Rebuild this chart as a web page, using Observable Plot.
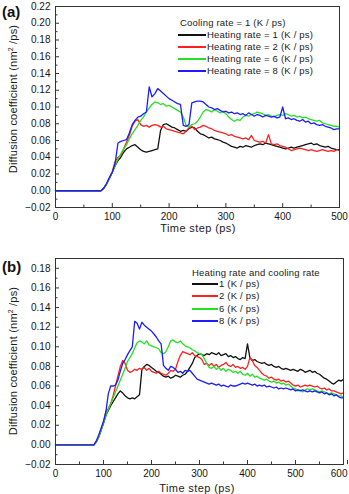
<!DOCTYPE html>
<html>
<head>
<meta charset="utf-8">
<script src="https://cdn.jsdelivr.net/npm/d3@7"></script>
<script src="https://cdn.jsdelivr.net/npm/@observablehq/plot@0.6"></script>
<style>
  html, body { margin: 0; padding: 0; background: #fff; }
  #page { position: relative; width: 349px; height: 494px; overflow: hidden; font-family: "Liberation Sans", Arial, sans-serif; color: #1a1a1a; }
  .panel { position: absolute; left: 0; }
  .tag { position: absolute; font-weight: bold; font-size: 15px; line-height: 1; color: #111; }
  .ylab { position: absolute; font-size: 11px; white-space: nowrap; transform: translate(-50%, -50%) rotate(-90deg); line-height: 1; letter-spacing: 0.2px; }
  .ylab sup { font-size: 7px; vertical-align: 4px; line-height: 0; }
  .xlab { position: absolute; font-size: 11px; white-space: nowrap; transform: translate(-50%, -50%); line-height: 1; letter-spacing: 0.4px; }
  .lg { position: absolute; font-size: 9.5px; white-space: nowrap; line-height: 1; letter-spacing: 0.2px; }
  .lg .row { position: absolute; left: 0; height: 12px; display: flex; align-items: center; }
  .lg .sw { display: inline-block; height: 2px; margin-right: 1px; }
  .lg .head { position: absolute; left: 0; height: 12px; display: flex; align-items: center; }
</style>
</head>
<body>
<div id="page"></div>
<script>
// Time axes (ps)
const timeA = [0, ...d3.range(80, 501, 5)];
const timeB = [0, ...d3.range(80, 601, 5)];

// (a) cooling rate fixed at 1 K/ps, heating rate varied
const a_heat1 = [0,
  0, 0.003, 0.008, 0.015, 0.022, 0.030, 0.036, 0.040, 0.046, 0.050,
  0.052, 0.054, 0.055, 0.052, 0.049, 0.047, 0.046, 0.047, 0.048, 0.049,
  0.050, 0.072, 0.079, 0.080, 0.078, 0.076, 0.075, 0.073, 0.071, 0.072,
  0.071, 0.074, 0.076, 0.075, 0.071, 0.068, 0.067, 0.065, 0.063, 0.064,
  0.062, 0.061, 0.060, 0.058, 0.057, 0.055, 0.053, 0.052, 0.051, 0.053,
  0.052, 0.054, 0.053, 0.052, 0.054, 0.055, 0.056, 0.055, 0.057, 0.056,
  0.055, 0.054, 0.053, 0.052, 0.051, 0.050, 0.051, 0.052, 0.051, 0.052,
  0.053, 0.054, 0.055, 0.056, 0.057, 0.055, 0.056, 0.054, 0.053, 0.052,
  0.053, 0.051, 0.050, 0.049, 0.049];
const a_heat2 = [0,
  0, 0.003, 0.008, 0.015, 0.023, 0.035, 0.040, 0.042, 0.050, 0.058,
  0.066, 0.077, 0.083, 0.085, 0.079, 0.077, 0.078, 0.076, 0.078, 0.079,
  0.078, 0.076, 0.077, 0.074, 0.073, 0.072, 0.071, 0.070, 0.069, 0.068,
  0.071, 0.075, 0.077, 0.073, 0.075, 0.076, 0.078, 0.077, 0.075, 0.074,
  0.072, 0.071, 0.070, 0.069, 0.068, 0.066, 0.067, 0.065, 0.064, 0.063,
  0.062, 0.063, 0.061, 0.066, 0.060, 0.059, 0.058, 0.059, 0.057, 0.067,
  0.056, 0.055, 0.056, 0.054, 0.053, 0.052, 0.050, 0.048, 0.049, 0.050,
  0.051, 0.050, 0.049, 0.048, 0.049, 0.048, 0.047, 0.048, 0.049, 0.048,
  0.047, 0.048, 0.047, 0.049, 0.048];
const a_heat6 = [0,
  0, 0.003, 0.008, 0.015, 0.022, 0.030, 0.038, 0.044, 0.050, 0.055,
  0.062, 0.068, 0.073, 0.078, 0.084, 0.088, 0.094, 0.099, 0.103, 0.106,
  0.105, 0.103, 0.104, 0.101, 0.102, 0.100, 0.098, 0.096, 0.094, 0.088,
  0.078, 0.076, 0.079, 0.080, 0.083, 0.088, 0.094, 0.097, 0.096, 0.094,
  0.097, 0.095, 0.093, 0.095, 0.092, 0.088, 0.085, 0.083, 0.085, 0.084,
  0.088, 0.090, 0.089, 0.091, 0.092, 0.094, 0.093, 0.092, 0.090, 0.091,
  0.089, 0.088, 0.090, 0.091, 0.090, 0.092, 0.091, 0.089, 0.090, 0.088,
  0.089, 0.087, 0.088, 0.086, 0.085, 0.084, 0.083, 0.084, 0.081, 0.080,
  0.079, 0.078, 0.077, 0.077, 0.076];
const a_heat8 = [0,
  0, 0.003, 0.009, 0.016, 0.022, 0.033, 0.057, 0.059, 0.060, 0.061,
  0.069, 0.079, 0.084, 0.088, 0.089, 0.092, 0.094, 0.124, 0.112, 0.116,
  0.122, 0.119, 0.116, 0.113, 0.110, 0.108, 0.106, 0.104, 0.103, 0.078,
  0.077, 0.079, 0.105, 0.106, 0.107, 0.107, 0.106, 0.103, 0.100, 0.099,
  0.097, 0.098, 0.096, 0.094, 0.095, 0.093, 0.094, 0.092, 0.093, 0.091,
  0.092, 0.090, 0.093, 0.091, 0.089, 0.091, 0.090, 0.088, 0.090, 0.089,
  0.088, 0.089, 0.087, 0.088, 0.100, 0.086, 0.087, 0.085, 0.086, 0.084,
  0.083, 0.085, 0.082, 0.083, 0.080, 0.081, 0.079, 0.078, 0.079, 0.077,
  0.076, 0.075, 0.073, 0.074, 0.074];

// (b) equal heating and cooling rates
const b_rate1 = [0,
  0, 0.003, 0.008, 0.015, 0.022, 0.030, 0.035, 0.040, 0.044, 0.048,
  0.052, 0.055, 0.053, 0.050, 0.048, 0.047, 0.048, 0.047, 0.049, 0.051,
  0.077, 0.080, 0.082, 0.081, 0.079, 0.077, 0.075, 0.074, 0.072, 0.070,
  0.069, 0.070, 0.068, 0.069, 0.071, 0.070, 0.069, 0.071, 0.072, 0.075,
  0.079, 0.083, 0.089, 0.091, 0.093, 0.092, 0.091, 0.093, 0.092, 0.094,
  0.093, 0.092, 0.094, 0.091, 0.092, 0.093, 0.090, 0.091, 0.089, 0.090,
  0.088, 0.087, 0.089, 0.088, 0.103, 0.089, 0.086, 0.087, 0.085, 0.084,
  0.083, 0.084, 0.082, 0.081, 0.082, 0.080, 0.079, 0.080, 0.078, 0.077,
  0.078, 0.077, 0.076, 0.077, 0.076, 0.075, 0.077, 0.076, 0.074, 0.075,
  0.076, 0.074, 0.075, 0.073, 0.072, 0.070, 0.068, 0.067, 0.065, 0.063,
  0.062, 0.064, 0.066, 0.065, 0.067];
const b_rate2 = [0,
  0, 0.003, 0.008, 0.015, 0.023, 0.034, 0.037, 0.042, 0.050, 0.060,
  0.070, 0.080, 0.086, 0.083, 0.076, 0.074, 0.075, 0.077, 0.076, 0.078,
  0.077, 0.079, 0.076, 0.078, 0.075, 0.074, 0.073, 0.075, 0.073, 0.072,
  0.071, 0.073, 0.076, 0.075, 0.077, 0.085, 0.091, 0.095, 0.094, 0.093,
  0.092, 0.094, 0.091, 0.090, 0.089, 0.087, 0.082, 0.083, 0.081, 0.083,
  0.080, 0.082, 0.079, 0.081, 0.082, 0.084, 0.081, 0.080, 0.082, 0.079,
  0.080, 0.078, 0.079, 0.077, 0.080, 0.089, 0.086, 0.081, 0.079, 0.076,
  0.073, 0.071, 0.070, 0.068, 0.069, 0.067, 0.066, 0.067, 0.065, 0.066,
  0.064, 0.065, 0.063, 0.061, 0.060, 0.061, 0.059, 0.060, 0.061, 0.060,
  0.061, 0.060, 0.059, 0.060, 0.058, 0.057, 0.058, 0.056, 0.057, 0.055,
  0.055, 0.054, 0.053, 0.052, 0.053];
const b_rate6 = [0,
  0, 0.003, 0.008, 0.015, 0.022, 0.030, 0.036, 0.042, 0.048, 0.054,
  0.060, 0.066, 0.072, 0.078, 0.085, 0.089, 0.093, 0.099, 0.104, 0.106,
  0.105, 0.103, 0.106, 0.102, 0.101, 0.100, 0.099, 0.098, 0.094, 0.093,
  0.095, 0.100, 0.106, 0.107, 0.105, 0.104, 0.106, 0.103, 0.101, 0.100,
  0.099, 0.097, 0.096, 0.094, 0.093, 0.092, 0.088, 0.083, 0.079, 0.078,
  0.080, 0.077, 0.079, 0.076, 0.078, 0.075, 0.077, 0.076, 0.074, 0.075,
  0.073, 0.075, 0.072, 0.071, 0.073, 0.070, 0.072, 0.069, 0.070, 0.068,
  0.067, 0.066, 0.067, 0.065, 0.064, 0.065, 0.063, 0.064, 0.062, 0.063,
  0.061, 0.062, 0.060, 0.058, 0.057, 0.055, 0.056, 0.054, 0.056, 0.057,
  0.056, 0.057, 0.056, 0.055, 0.054, 0.055, 0.054, 0.053, 0.052, 0.053,
  0.052, 0.051, 0.050, 0.050, 0.049];
const b_rate8 = [0,
  0, 0.004, 0.010, 0.017, 0.024, 0.034, 0.052, 0.060, 0.060, 0.061,
  0.066, 0.075, 0.083, 0.087, 0.092, 0.096, 0.100, 0.126, 0.124, 0.118,
  0.125, 0.122, 0.120, 0.118, 0.116, 0.113, 0.110, 0.106, 0.103, 0.081,
  0.078, 0.076, 0.080, 0.079, 0.077, 0.074, 0.075, 0.073, 0.076, 0.075,
  0.076, 0.073, 0.070, 0.067, 0.066, 0.065, 0.064, 0.063, 0.062, 0.063,
  0.062, 0.061, 0.062, 0.060, 0.061, 0.060, 0.059, 0.061, 0.060, 0.060,
  0.061, 0.062, 0.063, 0.062, 0.063, 0.062, 0.061, 0.062, 0.060, 0.061,
  0.060, 0.061, 0.059, 0.060, 0.059, 0.058, 0.059, 0.057, 0.058, 0.057,
  0.058, 0.057, 0.056, 0.057, 0.055, 0.056, 0.055, 0.056, 0.055, 0.054,
  0.055, 0.054, 0.055, 0.054, 0.053, 0.054, 0.052, 0.053, 0.051, 0.052,
  0.050, 0.051, 0.049, 0.048, 0.048];

// Tick labels
const xTicksA = [0, 100, 200, 300, 400, 500];
const xTicksB = [0, 100, 200, 300, 400, 500, 600];
const yTicksA = [-0.02, 0.00, 0.02, 0.04, 0.06, 0.08, 0.10, 0.12, 0.14, 0.16, 0.18, 0.20, 0.22];
const yTicksB = [-0.02, 0.00, 0.02, 0.04, 0.06, 0.08, 0.10, 0.12, 0.14, 0.16, 0.18];

const colors = ["#111111", "#ff1f1f", "#22e022", "#1c1cff"];
const legendA = ["Heating rate = 1 (K / ps)", "Heating rate = 2 (K / ps)", "Heating rate = 6 (K / ps)", "Heating rate = 8 (K / ps)"];
const legendB = ["1 (K / ps)", "2 (K / ps)", "6 (K / ps)", "8 (K / ps)"];

const page = document.getElementById("page");

function midpoints(arr) {
  const out = [];
  for (let i = 0; i < arr.length - 1; i++) out.push((arr[i] + arr[i + 1]) / 2);
  return out;
}

function panel({time, series, xTicks, yTicks, xMax, yDomain, top, height, margins, pullLastX}) {
  const rows = series.map(vals => vals.map((v, i) => ({t: time[i], v})));
  // the last x label sits at the window edge; it can be anchored to its end
  const xMain = pullLastX ? xTicks.slice(0, -1) : xTicks;
  const xLast = pullLastX ? xTicks.slice(-1) : [];
  const chart = Plot.plot({
    width: 349,
    height,
    ...margins,
    x: {domain: [0, xMax]},
    y: {domain: yDomain},
    style: {fontFamily: "Liberation Sans, Arial, sans-serif", fontSize: "10px", color: "#151515", background: "transparent", overflow: "visible"},
    marks: [
      Plot.axisX(xMain, {tickSize: -4, tickPadding: 9, tickFormat: d3.format("d"), label: null, stroke: "#333"}),
      Plot.axisX(xLast, {tickSize: -4, tickPadding: 9, tickFormat: d3.format("d"), label: null, stroke: "#333", textAnchor: "end", dx: 4}),
      Plot.axisX(midpoints(xTicks), {tickSize: -2.5, tickFormat: () => "", label: null, stroke: "#333"}),
      Plot.axisY(yTicks, {tickSize: -4, tickPadding: 9, tickFormat: d3.format(".2f"), label: null, stroke: "#333"}),
      Plot.axisY(midpoints(yTicks), {tickSize: -2.5, tickFormat: () => "", label: null, stroke: "#333"}),
      ...rows.map((r, k) => Plot.line(r, {x: "t", y: "v", stroke: colors[k], strokeWidth: 1.3})),
      Plot.frame({stroke: "#333", strokeWidth: 1})
    ]
  });
  chart.classList.add("panel");
  chart.style.top = top + "px";
  page.appendChild(chart);
}

function addDiv(cls, html, left, top) {
  const d = document.createElement("div");
  d.className = cls;
  d.innerHTML = html;
  d.style.left = left + "px";
  d.style.top = top + "px";
  page.appendChild(d);
  return d;
}

function legend({header, headerX, headerY, labels, lineX, lineW, rowY, rowGap}) {
  const box = addDiv("lg", "", 0, 0);
  const h = document.createElement("div");
  h.className = "head";
  h.textContent = header;
  h.style.left = headerX + "px";
  h.style.top = Math.round(headerY - 6) + "px";
  box.appendChild(h);
  labels.forEach((lab, k) => {
    const r = document.createElement("div");
    r.className = "row";
    r.style.left = lineX + "px";
    r.style.top = Math.round(rowY + k * rowGap - 6) + "px";
    const sw = document.createElement("span");
    sw.className = "sw";
    sw.style.width = lineW + "px";
    sw.style.background = colors[k];
    r.appendChild(sw);
    r.appendChild(document.createTextNode(lab));
    box.appendChild(r);
  });
}

// Panel (a)
panel({
  time: timeA, series: [a_heat1, a_heat2, a_heat6, a_heat8],
  xTicks: xTicksA, yTicks: yTicksA, xMax: 500, yDomain: [-0.02, 0.22],
  top: 0, height: 240, pullLastX: false,
  margins: {marginLeft: 55, marginRight: 10, marginTop: 6, marginBottom: 33}
});
// Panel (b)
panel({
  time: timeB, series: [b_rate1, b_rate2, b_rate6, b_rate8],
  xTicks: xTicksB, yTicks: yTicksB, xMax: 600, yDomain: [-0.02, 0.19],
  top: 250, height: 244, pullLastX: true,
  margins: {marginLeft: 55, marginRight: 6, marginTop: 8, marginBottom: 30}
});

addDiv("tag", "(a)", 2, 4);
addDiv("tag", "(b)", 2, 259);
addDiv("ylab", "Diffusion coefficient (nm<sup>2</sup> /ps)", 13, 99);
addDiv("ylab", "Diffusion coefficient (nm<sup>2</sup> /ps)", 13, 361);
addDiv("xlab", "Time step (ps)", 198, 228);
addDiv("xlab", "Time step (ps)", 197, 488);

legend({header: "Cooling rate = 1 (K / ps)", headerX: 180, headerY: 23,
  labels: legendA, lineX: 178, lineW: 28, rowY: 34.7, rowGap: 12.2});
legend({header: "Heating rate and cooling rate", headerX: 192, headerY: 272.7,
  labels: legendB, lineX: 192, lineW: 26, rowY: 284.3, rowGap: 12.1});
</script>
</body>
</html>
